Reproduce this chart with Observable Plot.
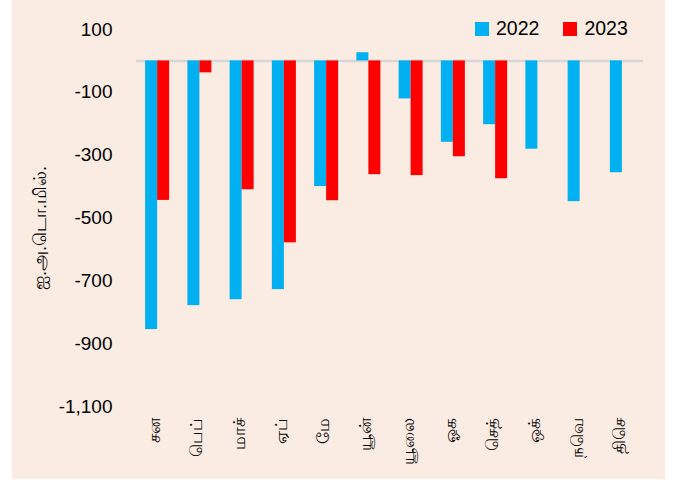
<!DOCTYPE html>
<html>
<head>
<meta charset="utf-8">
<script src="https://cdn.jsdelivr.net/npm/d3@7"></script>
<script src="https://cdn.jsdelivr.net/npm/@observablehq/plot@0.6"></script>
<style>
  body { margin: 0; background: #ffffff; }
  #wrap { position: relative; margin-left: 12px; width: 653px; height: 479px; background: #FBECE3; }
  #legend { position: absolute; left: 463px; top: 17px; display: flex; align-items: center;
            font-family: "Liberation Sans", Arial, sans-serif; font-size: 19.5px; color: #000; }
  .sw { display: inline-block; width: 14px; height: 14px; margin-right: 7px; }
  .item { display: flex; align-items: center; margin-right: 24px; }
</style>
</head>
<body>
<div id="wrap"><div id="legend"></div></div>
<script>
const months = ["சன","பெப்","மாச்","ஏப்","மே","யூன்","யூலை","ஓக","செத்","ஒக்","நவெ","திசெ"];
const years = ["2022","2023"];
const values2022 = [-855,-779,-760,-728,-400,26,-121,-259,-203,-281,-448,-356];
const values2023 = [-444,-38,-410,-579,-445,-362,-365,-305,-375,null,null,null];
const yTicks = [100,-100,-300,-500,-700,-900,-1100];
const yTitle = "ஐ.அ.டொ.மில்.";
const colors = ["#00B0F0","#FF0000"];

const d2022 = months.map((m,i) => ({month:m, year:years[0], value:values2022[i]})).filter(d => d.value != null);
const d2023 = months.map((m,i) => ({month:m, year:years[1], value:values2023[i]})).filter(d => d.value != null);

const fmt = d => d.toLocaleString("en-US");

const chart = Plot.plot({
  width: 653, height: 479,
  marginLeft: 124, marginRight: 22, marginTop: 29, marginBottom: 73,
  style: {background: "transparent", fontFamily: "'Liberation Sans', Arial, sans-serif", fontSize: "19px", color: "#000", overflow: "visible"},
  x: {domain: months, paddingInner: 0.432, paddingOuter: 0.216, round: false, label: null},
  y: {domain: [-1100, 100], label: null},
  color: {domain: years, range: colors},
  marks: [
    Plot.ruleY([0], {stroke: "#D6D6D6", strokeWidth: 2.5}),
    Plot.barY(d2022, {x: "month", y: "value", fill: "year", insetRight: 12}),
    Plot.barY(d2023, {x: "month", y: "value", fill: "year", insetLeft: 12}),
    Plot.axisY({ticks: yTicks, tickSize: 0, tickPadding: 24, tickFormat: fmt, label: null, fontSize: 19}),
    Plot.axisX({tickSize: 0, tickRotate: -90, tickPadding: 11, dx: -3, label: null, fontSize: 17}),
    Plot.text([yTitle], {frameAnchor: "left", textAnchor: "middle", dx: -96, dy: 10, rotate: -90, fontSize: 18, fill: "#000"})
  ]
});
document.getElementById("wrap").prepend(chart);

const legend = document.getElementById("legend");
years.forEach((y, i) => {
  const item = document.createElement("span");
  item.className = "item";
  const sw = document.createElement("span");
  sw.className = "sw";
  sw.style.background = colors[i];
  item.appendChild(sw);
  item.appendChild(document.createTextNode(y));
  legend.appendChild(item);
});
</script>
</body>
</html>
